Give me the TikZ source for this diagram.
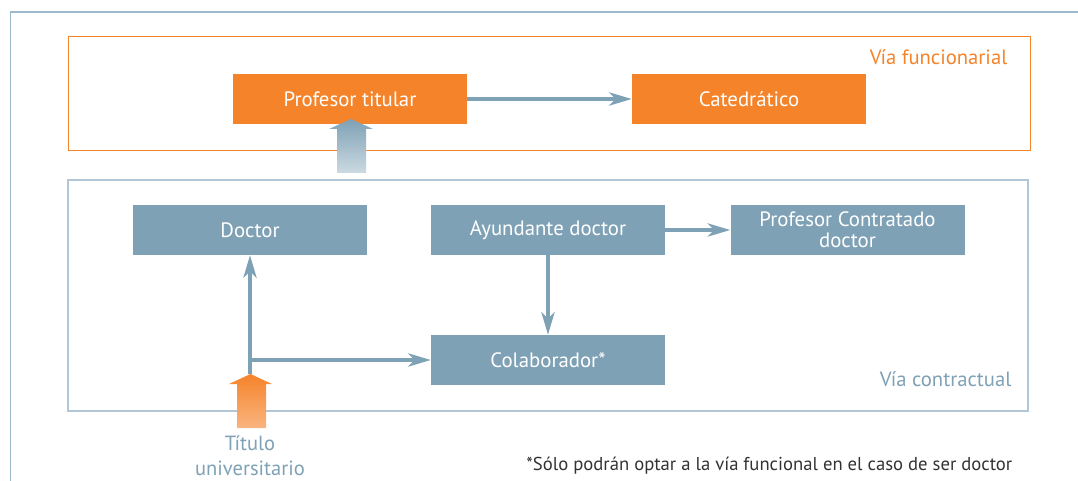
\documentclass[tikz,border=0pt]{standalone}
\usepackage{fontspec}
\setmainfont{PT Sans}
\usetikzlibrary{arrows.meta}
\definecolor{naranja}{HTML}{F5832A}
\definecolor{azul}{HTML}{7EA1B5}
\definecolor{marco}{HTML}{9DB9CE}
\definecolor{texto}{HTML}{333333}
\begin{document}
\begin{tikzpicture}[x=0.75pt, y=-0.75pt,
  caja/.style={draw=none, minimum width=175.5pt, minimum height=37.5pt, inner sep=0pt, text=white, font=\fontsize{15.6}{15.75}\selectfont, align=center},
  cajaN/.style={caja, fill=naranja},
  cajaA/.style={caja, fill=azul},
  flecha/.style={draw=azul, line width=2.3pt, -{Stealth[length=17pt, width=10pt, inset=5pt]}}]
\useasboundingbox (0,0) rectangle (1078,481);
\draw[marco, line width=1pt] (10.5,481) -- (10.5,12) -- (1078,12);
\draw[naranja, line width=0.6pt] (68,36) rectangle (1030,150);
\draw[marco!80, line width=1pt] (68,180) rectangle (1028,411);
\node[anchor=base east, text=naranja, font=\fontsize{15.5}{16}\selectfont] (vfun) at (1012,65) {Vía funcionarial};
\node[anchor=base east, text=azul, font=\fontsize{15.5}{16}\selectfont] (vcon) at (1016,386) {Vía contractual};
\node[cajaN] (titular) at (350,99) {Profesor titular};
\node[cajaN] (catedra) at (749,99) {Catedrático};
\node[cajaA] (doctor) at (250,230) {Doctor};
\node[cajaA] (ayudante) at (548,230) {Ayundante doctor};
\node[cajaA] (contratado) at (847.5,230) {Profesor Contratado\\doctor};
\node[cajaA] (colab) at (548,360) {Colaborador*};
\shade[top color=azul, bottom color=azul!40] (337,173) -- (337,129) -- (329,129) -- (351,119) -- (373,129) -- (366,129) -- (366,173) -- cycle;
\shade[top color=naranja, bottom color=naranja!60] (237,428) -- (237,384) -- (229,384) -- (250.5,374) -- (272,384) -- (266,384) -- (266,428) -- cycle;
\coordinate (titulo) at (250,374);
\coordinate (cruce) at (250,360);
\draw[flecha] (titular) -- (catedra);
\draw[flecha] (ayudante) -- (contratado);
\draw[flecha] (ayudante) -- (colab);
\draw[flecha] (titulo) -- (doctor);
\draw[flecha] (cruce) -- (colab);
\node[text=azul, align=center, anchor=base, inner sep=1pt, font=\fontsize{15.4}{18.75}\selectfont] (tlabel) at (250,475) {Título\\universitario};
\node[anchor=base east, text=texto, font=\fontsize{14}{16}\selectfont] (nota) at (1017,470) {*Sólo podrán optar a la vía funcional en el caso de ser doctor};
\end{tikzpicture}
\end{document}
